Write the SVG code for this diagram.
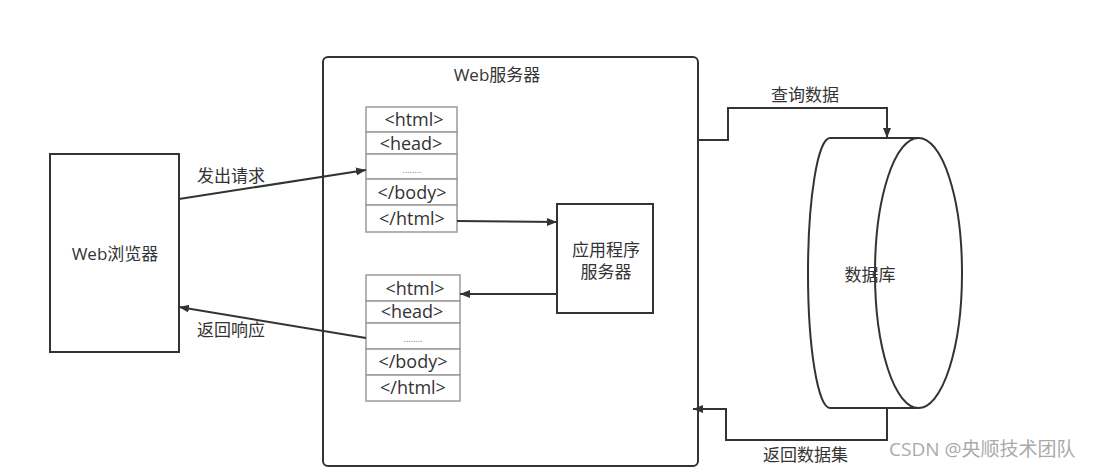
<svg xmlns="http://www.w3.org/2000/svg" width="1096" height="468" viewBox="0 0 1096 468">
<style>
text{font-family:"Open Sans","Noto Sans CJK SC",sans-serif;fill:#333;font-size:17px}
.c{text-anchor:middle}
.box{fill:#fff;stroke:#333;stroke-width:2}
.cell{fill:#fff;stroke:#9a9a9a;stroke-width:1.5}
.tag{font-size:18px;text-anchor:middle}
.dots{font-size:9px;fill:#777;text-anchor:middle}
.ln{fill:none;stroke:#333;stroke-width:2}
.wm{fill:#aaa;font-size:19px}
</style>
<defs>
<marker id="ah" viewBox="0 0 10 10" refX="10" refY="5" markerWidth="10" markerHeight="10" markerUnits="userSpaceOnUse" orient="auto">
<path d="M0,1 L10,5 L0,9 Z" fill="#333"/>
</marker>
</defs>
<rect width="1096" height="468" fill="#fff"/>

<g id="browser">
<rect class="box" x="50" y="154" width="129" height="198"/>
<text class="c" x="115" y="260">Web浏览器</text>
</g>

<g id="webserver">
<rect class="box" x="323" y="57" width="375" height="409" rx="5"/>
<text class="c" x="497" y="81">Web服务器</text>
</g>

<g id="request-page">
<rect class="cell" x="366" y="107" width="91" height="25"/>
<rect class="cell" x="366" y="132" width="91" height="22"/>
<rect class="cell" x="366" y="154" width="91" height="25"/>
<rect class="cell" x="366" y="179" width="91" height="26"/>
<rect class="cell" x="366" y="205" width="91" height="27"/>
<text class="tag" x="414" y="126">&lt;html&gt;</text>
<text class="tag" x="411" y="150">&lt;head&gt;</text>
<text class="dots" x="412" y="173">........</text>
<text class="tag" x="412" y="199">&lt;/body&gt;</text>
<text class="tag" x="412" y="225">&lt;/html&gt;</text>
</g>

<g id="response-page">
<rect class="cell" x="366" y="275" width="94" height="26"/>
<rect class="cell" x="366" y="301" width="94" height="22"/>
<rect class="cell" x="366" y="323" width="94" height="26"/>
<rect class="cell" x="366" y="349" width="94" height="26"/>
<rect class="cell" x="366" y="375" width="94" height="26"/>
<text class="tag" x="415" y="295">&lt;html&gt;</text>
<text class="tag" x="412" y="318">&lt;head&gt;</text>
<text class="dots" x="413" y="342">........</text>
<text class="tag" x="413" y="368">&lt;/body&gt;</text>
<text class="tag" x="413" y="394">&lt;/html&gt;</text>
</g>

<g id="appserver">
<rect class="box" x="557" y="204" width="96" height="109"/>
<text class="c" x="606" y="256">应用程序</text>
<text class="c" x="606" y="278">服务器</text>
</g>

<g id="database">
<path class="box" d="M830,138 L918,138 L918,408 L830,408 A22,135 0 0 1 830,138 Z"/>
<ellipse cx="918.5" cy="273" rx="43.5" ry="135" fill="#fff" stroke="#333" stroke-width="2"/>
<text class="c" x="870" y="281">数据库</text>
</g>

<g id="connectors">
<line class="ln" x1="179" y1="199" x2="366" y2="170" marker-end="url(#ah)"/>
<line class="ln" x1="366" y1="338" x2="179" y2="307" marker-end="url(#ah)"/>
<line class="ln" x1="457" y1="221" x2="557" y2="222" marker-end="url(#ah)"/>
<line class="ln" x1="557" y1="294" x2="460" y2="294" marker-end="url(#ah)"/>
<polyline class="ln" points="698,140 728,140 728,108 887,108 887,138" marker-end="url(#ah)"/>
<polyline class="ln" points="887,408 887,440 726,440 726,409 693,409" marker-end="url(#ah)"/>
<text x="197" y="182">发出请求</text>
<text x="197" y="336">返回响应</text>
<text x="771" y="101">查询数据</text>
<text x="763" y="461">返回数据集</text>
</g>

<text class="wm" x="889" y="456">CSDN @央顺技术团队</text>
</svg>
